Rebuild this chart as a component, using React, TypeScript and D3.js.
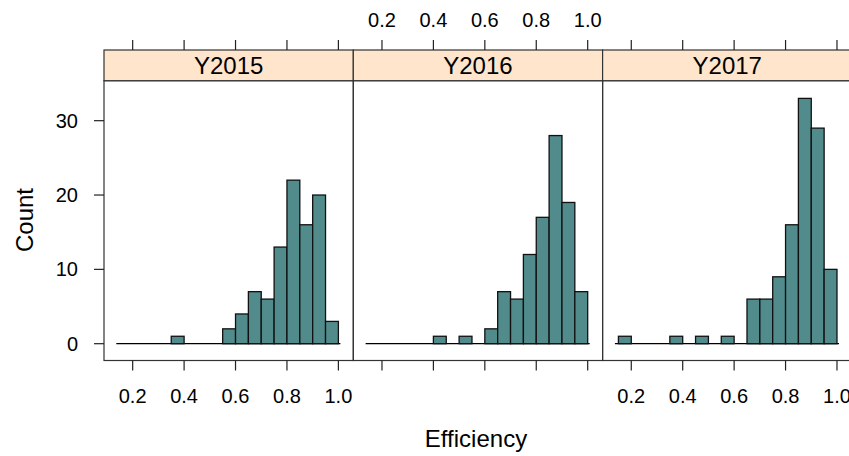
import React from "react";
import * as d3 from "d3";

const panels = ["Y2015", "Y2016", "Y2017"];
const binStarts = [0.15, 0.2, 0.25, 0.3, 0.35, 0.4, 0.45, 0.5, 0.55, 0.6, 0.65, 0.7, 0.75, 0.8, 0.85, 0.9, 0.95];
const binWidth = 0.05;
const counts2015 = [0, 0, 0, 0, 1, 0, 0, 0, 2, 4, 7, 6, 13, 22, 16, 20, 3];
const counts2016 = [0, 0, 0, 0, 0, 1, 0, 1, 0, 2, 7, 6, 12, 17, 28, 19, 7];
const counts2017 = [1, 0, 0, 0, 1, 0, 1, 0, 1, 0, 6, 6, 9, 16, 33, 29, 10];
const xTicks = [0.2, 0.4, 0.6, 0.8, 1.0];
const yTicks = [0, 10, 20, 30];
const xDomain = [0.0885, 1.058];
const yDomain = [-2.26, 35.38];

const allCounts = [counts2015, counts2016, counts2017];

const W = 849;
const H = 456;
const left = 104;
const panelW = 249.3;
const stripTop = 50;
const stripBottom = 80.7;
const panelBottom = 360.5;
const tickLen = 10;
const fill = "#528B8B";
const stripFill = "#FFE5CC";
const border = "#333333";
const font = "'Liberation Sans', Arial, sans-serif";

export default function App() {
  const y = d3.scaleLinear().domain(yDomain).range([panelBottom, stripBottom]);
  return (
    <svg width={W} height={H} style={{ position: "absolute", left: 0, top: 0, background: "#fff" }}>
      {panels.map((name, pi) => {
        const x0 = left + pi * panelW;
        const x = d3.scaleLinear().domain(xDomain).range([x0, x0 + panelW]);
        const counts = allCounts[pi];
        const first = binStarts[0];
        const last = binStarts[binStarts.length - 1] + binWidth;
        const showBottomLabels = pi !== 1;
        const showTopLabels = pi === 1;
        return (
          <g key={name}>
            {/* baseline (zero-height bins) */}
            <line x1={x(first) - 3.5} x2={x(last) + 2} y1={y(0)} y2={y(0)} stroke="#000" strokeWidth={1.3} />
            {binStarts.map((b, i) =>
              counts[i] > 0 ? (
                <rect
                  key={i}
                  x={x(b)}
                  width={x(b + binWidth) - x(b)}
                  y={y(counts[i])}
                  height={y(0) - y(counts[i])}
                  fill={fill}
                  stroke="#111"
                  strokeWidth={1.3}
                />
              ) : null
            )}
            {/* panel border */}
            <rect x={x0} y={stripBottom} width={panelW} height={panelBottom - stripBottom} fill="none" stroke={border} strokeWidth={1.2} />
            {/* strip */}
            <rect x={x0} y={stripTop} width={panelW} height={stripBottom - stripTop} fill={stripFill} stroke={border} strokeWidth={1.2} />
            <text x={x0 + panelW / 2} y={(stripTop + stripBottom) / 2} textAnchor="middle" dominantBaseline="central" fontFamily={font} fontSize={24} fill="#000">
              {name}
            </text>
            {/* ticks top and bottom */}
            {xTicks.map((t) => (
              <g key={t}>
                <line x1={x(t)} x2={x(t)} y1={panelBottom} y2={panelBottom + tickLen} stroke="#222" strokeWidth={1.2} />
                <line x1={x(t)} x2={x(t)} y1={stripTop} y2={stripTop - tickLen} stroke="#222" strokeWidth={1.2} />
                {showBottomLabels && (
                  <text x={x(t)} y={403} textAnchor="middle" fontFamily={font} fontSize={20} fill="#000">
                    {d3.format(".1f")(t)}
                  </text>
                )}
                {showTopLabels && (
                  <text x={x(t)} y={27} textAnchor="middle" fontFamily={font} fontSize={20} fill="#000">
                    {d3.format(".1f")(t)}
                  </text>
                )}
              </g>
            ))}
          </g>
        );
      })}
      {/* y axis */}
      {yTicks.map((t) => (
        <g key={t}>
          <line x1={left - tickLen} x2={left} y1={y(t)} y2={y(t)} stroke="#222" strokeWidth={1.2} />
          <text x={78} y={y(t)} textAnchor="end" dominantBaseline="central" fontFamily={font} fontSize={20} fill="#000">
            {t}
          </text>
        </g>
      ))}
      <text x={476} y={447} textAnchor="middle" fontFamily={font} fontSize={24} fill="#000">
        Efficiency
      </text>
      <text transform={`translate(33, 220) rotate(-90)`} textAnchor="middle" fontFamily={font} fontSize={24} fill="#000">
        Count
      </text>
    </svg>
  );
}
